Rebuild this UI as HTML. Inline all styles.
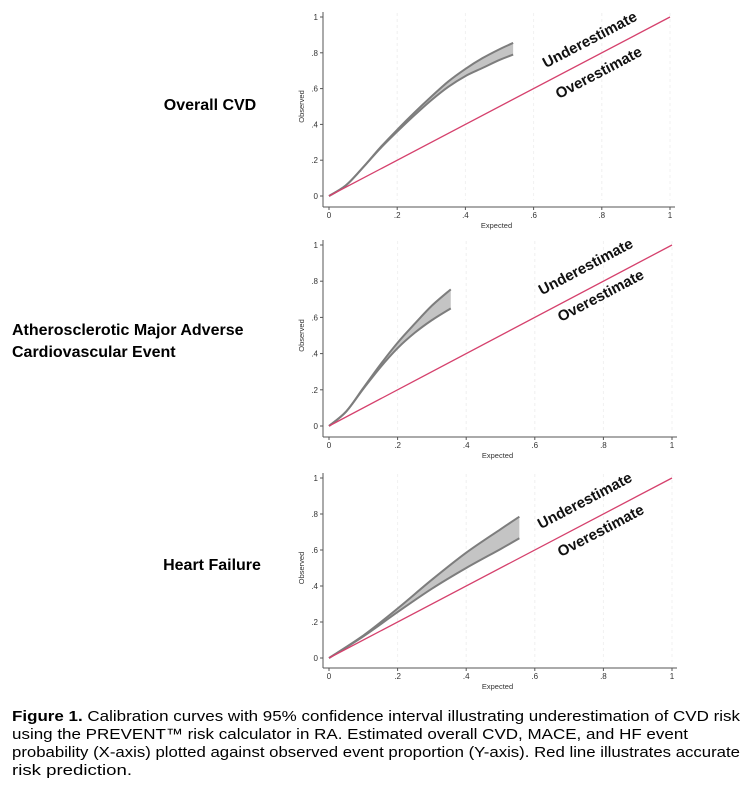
<!DOCTYPE html>
<html><head><meta charset="utf-8"><style>
body{margin:0;background:#fff;width:748px;height:792px;overflow:hidden;font-family:"Liberation Sans",Arial,sans-serif}
svg{position:absolute;left:0;top:0}
</style></head><body>
<svg id="fig" width="748" height="792" viewBox="0 0 748 792">
<g id="labels" font-family="Liberation Sans, Arial, sans-serif" font-weight="bold" font-size="16" fill="#000">
<text x="210" y="110" text-anchor="middle">Overall CVD</text>
<text x="12" y="335">Atherosclerotic Major Adverse</text>
<text x="12" y="357">Cardiovascular Event</text>
<text x="212" y="570" text-anchor="middle">Heart Failure</text>
</g>
<g font-family="Liberation Sans, Arial, sans-serif" font-size="15" fill="#000">
<text x="12" y="721" textLength="728" lengthAdjust="spacingAndGlyphs"><tspan font-weight="bold">Figure 1.</tspan> Calibration curves with 95% confidence interval illustrating underestimation of CVD risk</text>
<text x="12" y="739" textLength="676" lengthAdjust="spacingAndGlyphs">using the PREVENT™ risk calculator in RA. Estimated overall CVD, MACE, and HF event</text>
<text x="12" y="757" textLength="728" lengthAdjust="spacingAndGlyphs">probability (X-axis) plotted against observed event proportion (Y-axis). Red line illustrates accurate</text>
<text x="12" y="775" textLength="120" lengthAdjust="spacingAndGlyphs">risk prediction.</text>
</g>
</svg>
<script>
const ticks=[0,0.2,0.4,0.6,0.8,1];
const tickLabels=["0",".2",".4",".6",".8","1"];
const cvdX=[0,0.05,0.1,0.15,0.2,0.25,0.3,0.35,0.4,0.45,0.5,0.54];
const cvdUpper=[0,0.06,0.16,0.27,0.37,0.465,0.555,0.64,0.71,0.77,0.82,0.855];
const cvdLower=[0,0.06,0.16,0.265,0.36,0.45,0.535,0.61,0.67,0.715,0.76,0.79];
const maceX=[0,0.05,0.1,0.15,0.2,0.25,0.3,0.355];
const maceUpper=[0,0.08,0.21,0.34,0.46,0.565,0.665,0.755];
const maceLower=[0,0.08,0.205,0.325,0.43,0.515,0.585,0.65];
const hfX=[0,0.1,0.2,0.3,0.4,0.5,0.555];
const hfUpper=[0,0.125,0.275,0.435,0.585,0.715,0.785];
const hfLower=[0,0.12,0.255,0.385,0.5,0.605,0.665];
const panels=[
 {name:'cvd',x0:329,x1:670,y0:196,y1:17,xs:cvdX,up:cvdUpper,lo:cvdLower,ax:207,u:[592,44],o:[601,77]},
 {name:'mace',x0:329,x1:672,y0:426,y1:245,xs:maceX,up:maceUpper,lo:maceLower,ax:437,u:[588,271],o:[603,300]},
 {name:'hf',x0:329,x1:672,y0:658,y1:478,xs:hfX,up:hfUpper,lo:hfLower,ax:668,u:[587,505],o:[603,535]}
];
const NS='http://www.w3.org/2000/svg';
const svg=document.getElementById('fig');
function mk(t,a,p){const e=document.createElementNS(NS,t);for(const k in a)e.setAttribute(k,a[k]);(p||svg).appendChild(e);return e;}
function smooth(pts){ // catmull-rom to bezier
 let d='';
 for(let i=0;i<pts.length-1;i++){
  const p0=pts[Math.max(i-1,0)],p1=pts[i],p2=pts[i+1],p3=pts[Math.min(i+2,pts.length-1)];
  const c1=[p1[0]+(p2[0]-p0[0])/6,p1[1]+(p2[1]-p0[1])/6],c2=[p2[0]-(p3[0]-p1[0])/6,p2[1]-(p3[1]-p1[1])/6];
  d+=`C${c1[0]},${c1[1]} ${c2[0]},${c2[1]} ${p2[0]},${p2[1]}`;
 }
 return d;
}
panels.forEach(P=>{
 const sx=v=>P.x0+v*(P.x1-P.x0), sy=v=>P.y0-v*(P.y0-P.y1);
 const g=mk('g',{});
 
 
 ticks.forEach((t,i)=>{
  if(t>0){const gl=mk('line',{x1:sx(t),x2:sx(t),y1:P.y1-4,y2:P.y0+4,stroke:'#f0f0f0','stroke-dasharray':'3,3','stroke-width':1},g);
   
   }
  const yt=mk('text',{x:P.x0-11,y:sy(t)+3,'text-anchor':'end','font-size':8,fill:'#333'},g);yt.textContent=tickLabels[i];
  
  
  mk('line',{x1:P.x0-9,x2:P.x0-6,y1:sy(t),y2:sy(t),stroke:'#555'},g);
  const xt=mk('text',{x:sx(t),y:P.ax+11,'text-anchor':'middle','font-size':8,fill:'#333'},g);xt.textContent=tickLabels[i];
  
  
  mk('line',{x1:sx(t),x2:sx(t),y1:P.ax,y2:P.ax+3,stroke:'#555'},g);
 });
 mk('line',{x1:P.x0-6,x2:P.x0-6,y1:P.y1-5,y2:P.ax,stroke:'#555','stroke-width':1},g);
 mk('line',{x1:P.x0-6,x2:P.x1+5,y1:P.ax,y2:P.ax,stroke:'#555','stroke-width':1},g);
 const xl=mk('text',{x:(P.x0+P.x1)/2-3,y:P.ax+21,'text-anchor':'middle','font-size':7.5,fill:'#333'},g);xl.textContent='Expected';
 
 
 const yc=(P.y0+P.y1)/2;
 const yl=mk('text',{x:304,y:yc,'text-anchor':'middle','font-size':7.5,fill:'#333',transform:`rotate(-90 304 ${yc})`},g);yl.textContent='Observed';
 
 
 const upPts=P.xs.map((x,i)=>[sx(x),sy(P.up[i])]);
 const loPts=P.xs.map((x,i)=>[sx(x),sy(P.lo[i])]);
 const upD='M'+upPts[0].join(',')+smooth(upPts);
 const loRev=loPts.slice().reverse();
 const band=mk('path',{d:upD+'L'+loRev[0].join(',')+smooth(loRev)+'Z',fill:'#c4c4c4',stroke:'none'},g);
 
 
 const ue=mk('path',{d:upD,fill:'none',stroke:'#7d7d7d','stroke-width':2},g);
 
 
 const le=mk('path',{d:'M'+loPts[0].join(',')+smooth(loPts),fill:'none',stroke:'#7d7d7d','stroke-width':2},g);
 
 
 const ref=mk('line',{x1:sx(0),y1:sy(0),x2:sx(1),y2:sy(1),stroke:'#d5416d','stroke-width':1.3},g);
 
 
 const ang=-Math.atan2(P.y0-P.y1,P.x1-P.x0)*180/Math.PI;
 const ut=mk('text',{x:P.u[0],y:P.u[1],'text-anchor':'middle','font-size':15,'font-weight':'bold',fill:'#111',transform:`rotate(${ang} ${P.u[0]} ${P.u[1]})`},g);ut.textContent='Underestimate';
 
 
 const ot=mk('text',{x:P.o[0],y:P.o[1],'text-anchor':'middle','font-size':15,'font-weight':'bold',fill:'#111',transform:`rotate(${ang} ${P.o[0]} ${P.o[1]})`},g);ot.textContent='Overestimate';
 
 
});
</script>
</body></html>
